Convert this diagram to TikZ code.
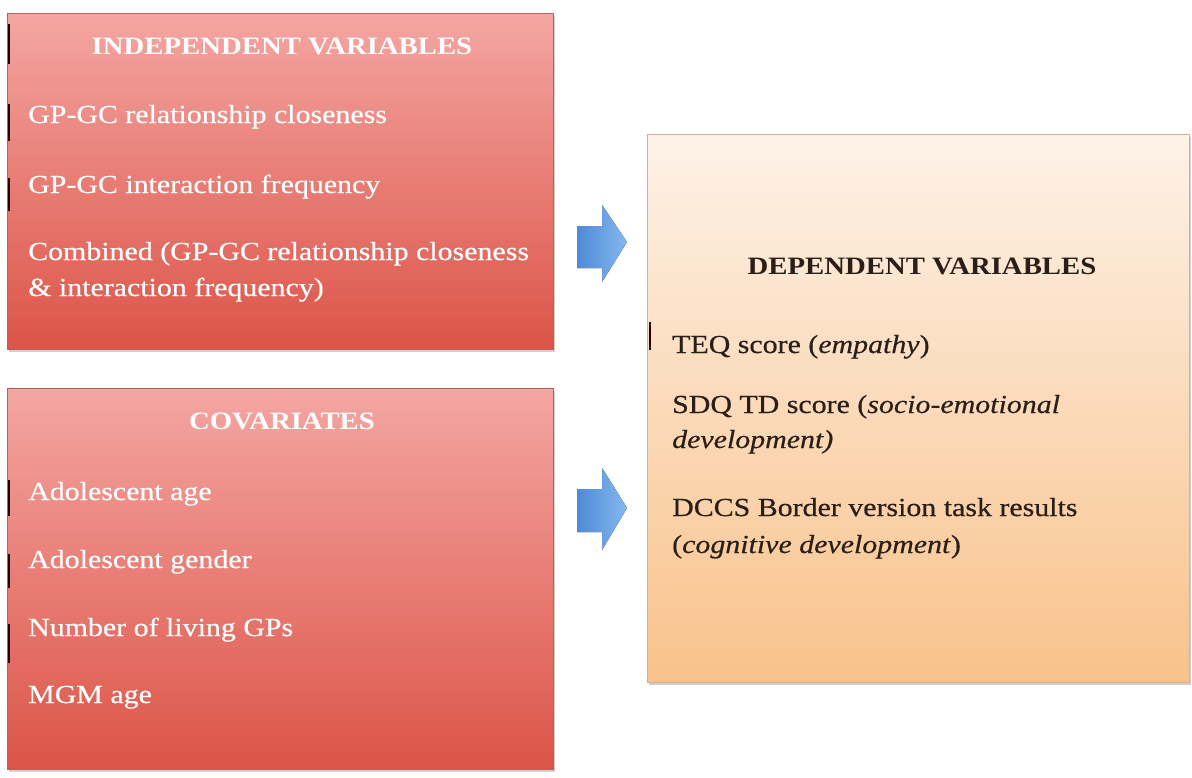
\documentclass[tikz,border=0pt]{standalone}
\usepackage{fontspec}
\setmainfont[FakeStretch=1.15,
  UprightFeatures={FakeBold=0.5},
  ItalicFeatures={FakeBold=0.5}]{Liberation Serif}
\usetikzlibrary{shadows}

\definecolor{redtop}{HTML}{F4A6A2}
\definecolor{redbot}{HTML}{DC5448}
\definecolor{redline}{HTML}{B8605A}
\definecolor{peachtop}{HTML}{FDF2E8}
\definecolor{peachbot}{HTML}{F9C28B}
\definecolor{peachline}{HTML}{D9B08C}
\definecolor{blueleft}{HTML}{4E8AD8}
\definecolor{blueright}{HTML}{86B8EE}
\definecolor{darktext}{HTML}{2A1E18}

\tikzset{
  panel/.style={anchor=north west, inner sep=0pt, line width=0.8pt,
    drop shadow={shadow xshift=2pt, shadow yshift=-3pt, opacity=0.3, fill=black!60}},
  redpanel/.style={panel, draw=redline, top color=redtop, bottom color=redbot},
  peachpanel/.style={panel, draw=peachline, top color=peachtop, bottom color=peachbot},
  itemtext/.style={anchor=base west, inner sep=0pt, font=\fontsize{26}{36}\selectfont},
  headtext/.style={anchor=base, inner sep=0pt, font=\fontsize{25}{36}\selectfont\bfseries},
  onred/.style={text=white},
  onpeach/.style={text=darktext},
  blockarrow/.style={left color=blueleft, right color=blueright, draw=none},
  changebar/.style={line width=1.8pt, black!85!red}
}

\begin{document}
\begin{tikzpicture}[x=1pt, y=-1pt]
  \useasboundingbox[fill=white] (0,0) rectangle (1192,777);

  % the three panels
  \node[redpanel, minimum width=546pt, minimum height=336pt] (iv) at (7,13) {};
  \node[redpanel, minimum width=546pt, minimum height=381pt] (cv) at (7,388) {};
  \node[peachpanel, minimum width=542pt, minimum height=548pt] (dv) at (647,134) {};

  % independent variables
  \node[headtext, onred] (ivhead) at (282,54) {INDEPENDENT VARIABLES};
  \node[itemtext, onred] (iv1) at (28,123) {GP-GC relationship closeness};
  \node[itemtext, onred] (iv2) at (28,193) {GP-GC interaction frequency};
  \node[itemtext, onred] (iv3a) at (28,260) {Combined (GP-GC relationship closeness};
  \node[itemtext, onred] (iv3b) at (28,296) {\& interaction frequency)};

  % covariates
  \node[headtext, onred] (cvhead) at (282,429) {COVARIATES};
  \node[itemtext, onred] (cv1) at (28,500) {Adolescent age};
  \node[itemtext, onred] (cv2) at (28,568) {Adolescent gender};
  \node[itemtext, onred] (cv3) at (28,636) {Number of living GPs};
  \node[itemtext, onred] (cv4) at (28,703) {MGM age};

  % dependent variables
  \node[headtext, onpeach] (dvhead) at (922,274) {DEPENDENT VARIABLES};
  \node[itemtext, onpeach] (dv1) at (672,353) {TEQ score (\textit{empathy})};
  \node[itemtext, onpeach] (dv2a) at (672,413) {SDQ TD score (\textit{socio-emotional}};
  \node[itemtext, onpeach] (dv2b) at (672,448) {\textit{development)}};
  \node[itemtext, onpeach] (dv3a) at (672,516) {DCCS Border version task results};
  \node[itemtext, onpeach] (dv3b) at (672,553) {(\textit{cognitive development})};

  % block arrows between the columns
  \fill[blockarrow] (577,226) -- (602,226) -- (602,205) -- (627,242)
    -- (602,282) -- (602,268) -- (577,268) -- cycle;
  \fill[blockarrow] (577,489) -- (602,489) -- (602,468) -- (627,508)
    -- (602,550) -- (602,532) -- (577,532) -- cycle;

  % revision bars at the left margins
  \draw[changebar] (9,24) -- (9,64);
  \draw[changebar] (9,104) -- (9,141);
  \draw[changebar] (9,178) -- (9,211);
  \draw[changebar] (9,480) -- (9,516);
  \draw[changebar] (9,554) -- (9,588);
  \draw[changebar] (9,624) -- (9,663);
  \draw[changebar] (650,322) -- (650,350);
\end{tikzpicture}
\end{document}
